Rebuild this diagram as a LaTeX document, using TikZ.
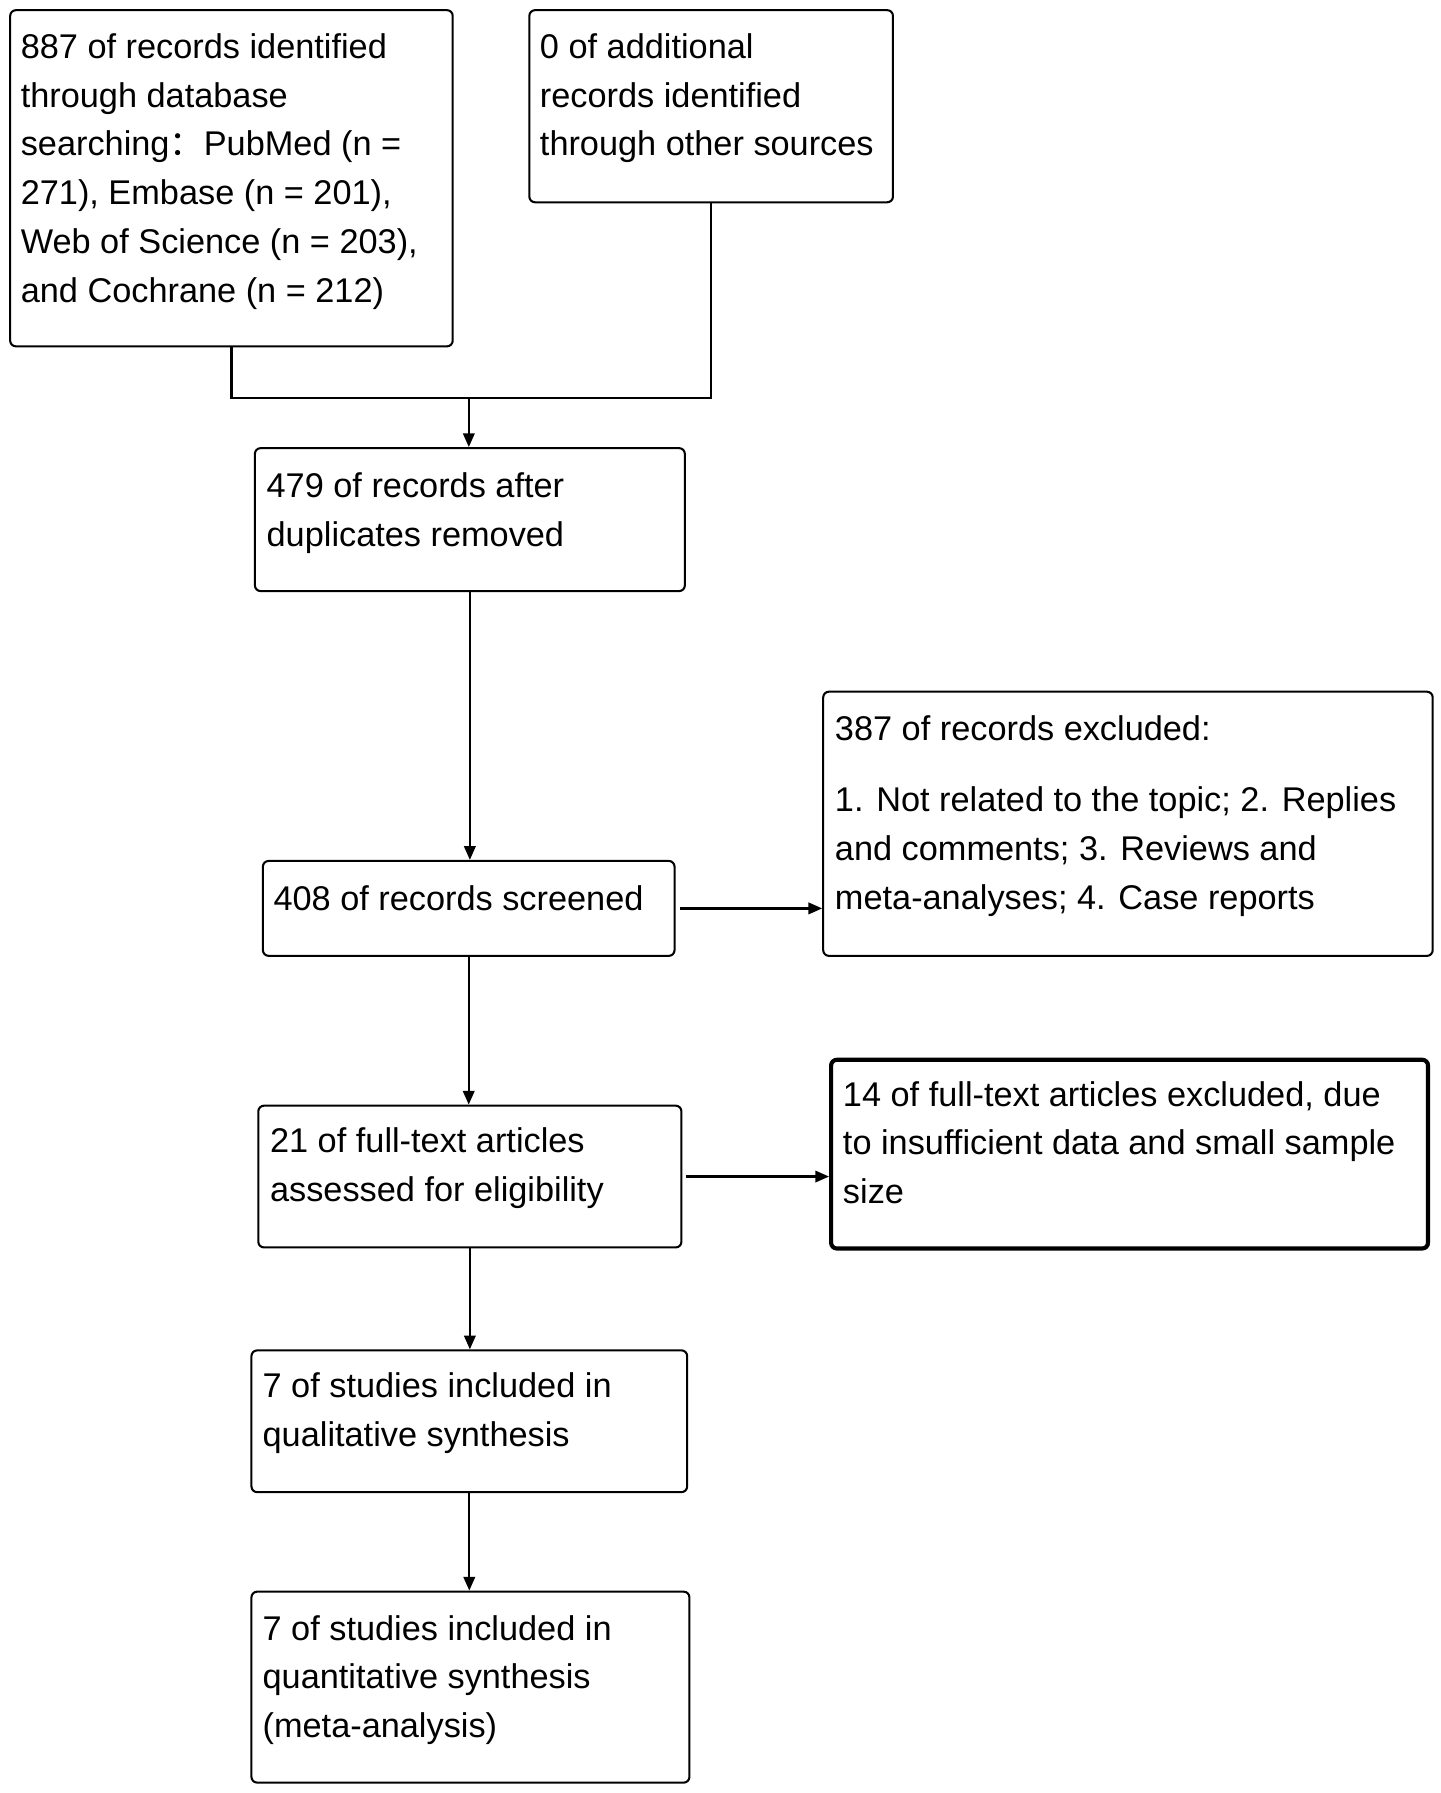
\documentclass[tikz,border=0pt]{standalone}
\usepackage{fontspec}
\setmainfont{Liberation Sans}
\newfontfamily\cjkfont{Noto Sans CJK SC}
\usetikzlibrary{arrows.meta}
\begin{document}
\begin{tikzpicture}[x=1pt,y=-1pt,
  box/.style={draw, line width=1.8pt, rounded corners=5pt, inner sep=0pt, anchor=north west},
  thickbox/.style={box, line width=3.6pt},
  txt/.style={anchor=north west, inner sep=0pt, align=left, font=\fontsize{30}{42.6}\selectfont},
  conn/.style={line width=2pt},
  arr/.style={conn, -{Triangle[width=10pt,length=12pt]}}]
\useasboundingbox[fill=white] (0,0) rectangle (1260,1568);

% boxes
\node[box, minimum width=387pt, minimum height=294pt] (A) at (8,8) {};
\node[box, minimum width=318pt, minimum height=168pt] (B) at (462,8) {};
\node[box, minimum width=376pt, minimum height=125pt] (C) at (222,391) {};
\node[box, minimum width=360pt, minimum height=83pt] (D) at (229,752) {};
\node[box, minimum width=533pt, minimum height=231pt] (E) at (719,604) {};
\node[box, minimum width=370pt, minimum height=124pt] (F) at (225,966) {};
\node[thickbox, minimum width=522pt, minimum height=165pt] (G) at (725,925) {};
\node[box, minimum width=381pt, minimum height=124pt] (H) at (219,1180) {};
\node[box, minimum width=383pt, minimum height=167pt] (I) at (219,1391) {};

% texts
\node[txt] (tA) at (18,21) {\rule{0pt}{30pt}887 of records identified\\through database\\searching{\cjkfont ：}PubMed (n =\\271), Embase (n = 201),\\Web of Science (n = 203),\\and Cochrane (n = 212)};
\node[txt] (tB) at (472,21) {\rule{0pt}{30pt}0 of additional\\records identified\\through other sources};
\node[txt] (tC) at (233,405) {\rule{0pt}{30pt}479 of records after\\duplicates removed};
\node[txt] (tD) at (239,766) {\rule{0pt}{30pt}408 of records screened};
\node[txt] (tE) at (730,617) {\rule{0pt}{30pt}387 of records excluded:\\[20pt]1. Not related to the topic; 2. Replies\\and comments; 3. Reviews and\\meta-analyses; 4. Case reports};
\node[txt] (tF) at (236,978) {\rule{0pt}{30pt}21 of full-text articles\\assessed for eligibility};
\node[txt] (tG) at (737,937) {\rule{0pt}{30pt}14 of full-text articles excluded, due\\to insufficient data and small sample\\size};
\node[txt] (tH) at (229.5,1192) {\rule{0pt}{30pt}7 of studies included in\\qualitative synthesis};
\node[txt] (tI) at (229.5,1404) {\rule{0pt}{30pt}7 of studies included in\\quantitative synthesis\\(meta-analysis)};

% connectors
\coordinate (J) at (410,348);
\draw[conn] (A.south) -- (A.south |- J) -- (B.south |- J) -- (B.south);
\draw[arr] (J) -- (J |- C.north);
\draw[arr] (C.south) -- (C.south |- D.north);
\draw[arr] ([xshift=4pt]D.east) -- (E.west |- D.east);
\draw[arr] (D.south) -- (D.south |- F.north);
\draw[arr] ([xshift=3pt]F.east) -- (G.west |- F.east);
\draw[arr] (F.south) -- (F.south |- H.north);
\draw[arr] (H.south) -- (H.south |- I.north);
\end{tikzpicture}
\end{document}
